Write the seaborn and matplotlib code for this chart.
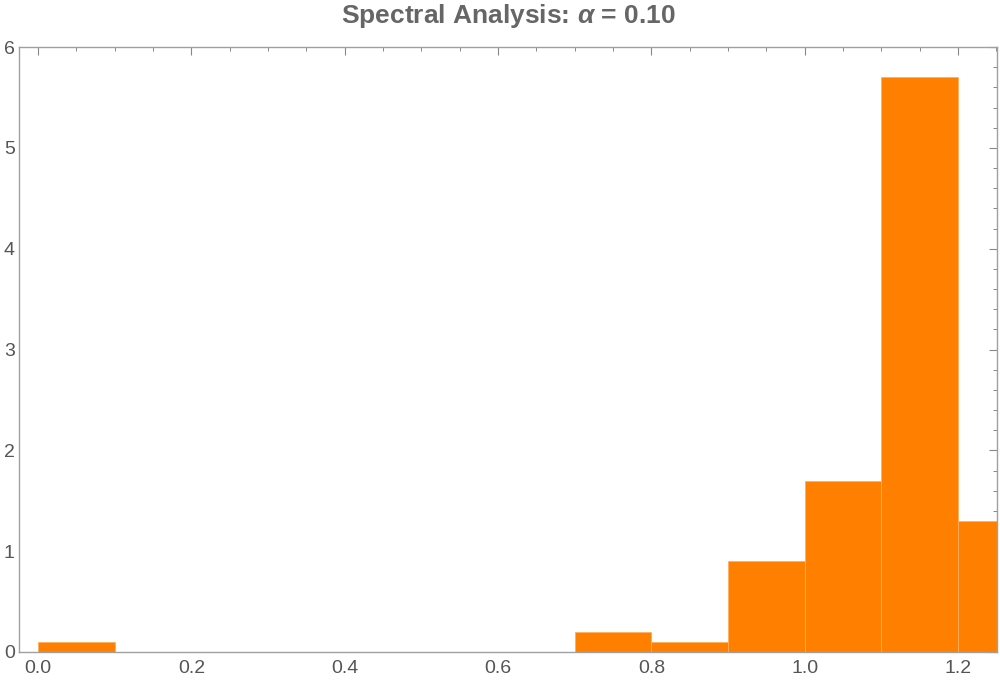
import matplotlib
matplotlib.use("Agg")
import matplotlib.pyplot as plt
from matplotlib.ticker import MultipleLocator
import seaborn as sns
import numpy as np

# Data: histogram bins (width 0.1) and sample counts per bin (density = count / (N*0.1))
bin_edges = [0.0, 0.1, 0.2, 0.3, 0.4, 0.5, 0.6, 0.7, 0.8, 0.9, 1.0, 1.1, 1.2, 1.3]
bin_centers = [0.05, 0.15, 0.25, 0.35, 0.45, 0.55, 0.65, 0.75, 0.85, 0.95, 1.05, 1.15, 1.25]
bin_counts = [1, 0, 0, 0, 0, 0, 0, 2, 1, 9, 17, 57, 13]

sns.set_theme(style="white")
plt.rcParams['font.family'] = ['Liberation Sans', 'DejaVu Sans']
plt.rcParams['mathtext.fontset'] = 'custom'
plt.rcParams['mathtext.it'] = 'Liberation Sans:bold:italic'
plt.rcParams['mathtext.rm'] = 'Liberation Sans:bold'

fig = plt.figure(figsize=(10, 6.86), dpi=100)
ax = fig.add_axes([0.019, 1 - 652 / 686, 0.978, (652 - 47) / 686])

sns.histplot(x=bin_centers, weights=bin_counts, bins=bin_edges, stat="density",
             color="#FF8000", edgecolor="#FFB060", linewidth=0.6, alpha=1.0, ax=ax)

ax.set_xlim(-0.025, 1.251)
ax.set_ylim(0, 6)
ax.set_xlabel("")
ax.set_ylabel("")

ax.xaxis.set_major_locator(MultipleLocator(0.2))
ax.xaxis.set_minor_locator(MultipleLocator(0.05))
ax.yaxis.set_major_locator(MultipleLocator(1))
ax.yaxis.set_minor_locator(MultipleLocator(0.2))
ax.set_xticks([0.0, 0.2, 0.4, 0.6, 0.8, 1.0, 1.2])
ax.set_xticklabels(["0.0", "0.2", "0.4", "0.6", "0.8", "1.0", "1.2"])
ax.set_yticks([0, 1, 2, 3, 4, 5, 6])
ax.set_yticklabels(["0", "1", "2", "3", "4", "5", "6"])

axis_col = "#A0A0A0"
for s in ax.spines.values():
    s.set_visible(True)
    s.set_color(axis_col)
    s.set_linewidth(1.0)

ax.tick_params(which="both", direction="in", top=True, right=True, color="#888888",
               labelcolor="#555555", labelsize=14)
ax.tick_params(which="major", length=5.5, width=0.8)
ax.tick_params(which="minor", length=3, width=0.7)
ax.tick_params(axis="x", which="major", pad=6)
ax.tick_params(axis="y", which="major", pad=3)

ax.set_title("Spectral Analysis: $\\alpha$ = 0.10", fontsize=19, fontweight="bold",
             color="#666666", pad=17)

fig.savefig("out.png", dpi=100)
